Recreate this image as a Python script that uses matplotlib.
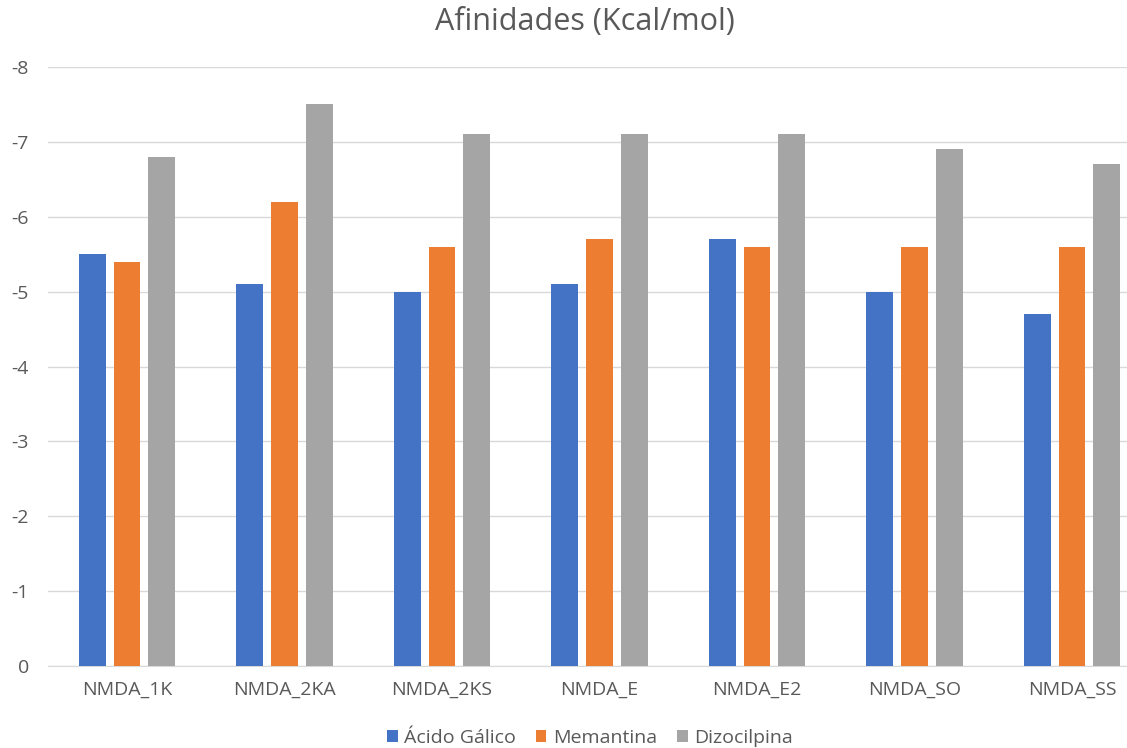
import matplotlib
matplotlib.use("Agg")
import matplotlib.pyplot as plt
import numpy as np
from matplotlib.patches import Patch

categories = ["NMDA_1K", "NMDA_2KA", "NMDA_2KS", "NMDA_E", "NMDA_E2", "NMDA_SO", "NMDA_SS"]
acido_galico = [-5.5, -5.1, -5.0, -5.1, -5.7, -5.0, -4.7]
memantina = [-5.4, -6.2, -5.6, -5.7, -5.6, -5.6, -5.6]
dizocilpina = [-6.8, -7.5, -7.1, -7.1, -7.1, -6.9, -6.7]
series_names = ["Ácido Gálico", "Memantina", "Dizocilpina"]
colors = ["#4472C4", "#ED7D31", "#A5A5A5"]
yticks = [0, -1, -2, -3, -4, -5, -6, -7, -8]

plt.rcParams["font.family"] = ["Open Sans", "DejaVu Sans"]
text_color = "#595959"

W, H = 1127, 748
fig = plt.figure(figsize=(W / 100, H / 100), dpi=100)
left_px, right_px = 48.25, 1150.75
top_px, bottom_px = 67, 666
ax = fig.add_axes([left_px / W, 1 - bottom_px / H,
                   (right_px - left_px) / W, (bottom_px - top_px) / H])

x = np.arange(len(categories))
bw = 0.171
step = 0.222
for i, (vals, c) in enumerate(zip([acido_galico, memantina, dizocilpina], colors)):
    ax.bar(x + (i - 1) * step, vals, width=bw, color=c, zorder=3)

ax.set_xlim(-0.5, len(categories) - 0.5)
ax.set_ylim(0, -8)
ax.set_yticks(yticks)
ax.set_yticklabels([str(v) for v in yticks])
ax.set_xticks(x)
ax.set_xticklabels(categories)
ax.grid(axis="y", color="#D9D9D9", linewidth=1, zorder=0)
for s in ["top", "right", "left"]:
    ax.spines[s].set_visible(False)
ax.spines["bottom"].set_color("#D9D9D9")
ax.tick_params(axis="both", length=0, colors=text_color, labelsize=14)
ax.tick_params(axis="x", pad=11)
ax.tick_params(axis="y", pad=14)

fig.text(585 / W, 1 - 22 / H, "Afinidades (Kcal/mol)", ha="center", va="center",
         fontsize=22, color=text_color)

handles = [Patch(facecolor=c, edgecolor="none") for c in colors]
fig.legend(handles, series_names, loc="center", bbox_to_anchor=(590 / W, 1 - 738 / H),
           ncol=3, frameon=False, fontsize=14, labelcolor=text_color,
           handlelength=0.55, handleheight=0.55, handletextpad=0.35, columnspacing=1.0)

fig.savefig("out.png", dpi=100)
